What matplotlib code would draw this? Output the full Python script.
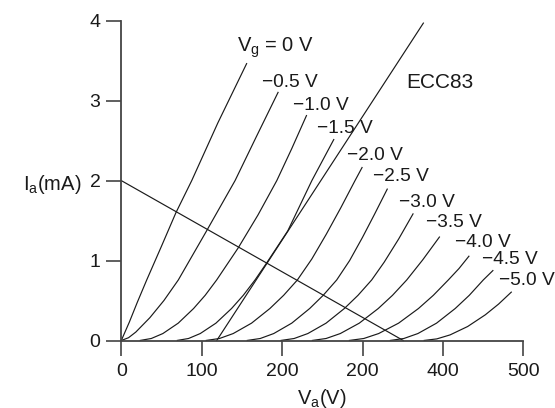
import matplotlib
matplotlib.use('Agg')
import matplotlib.pyplot as plt

plt.rcParams['font.family'] = ['Liberation Sans', 'DejaVu Sans']
plt.rcParams['mathtext.fontset'] = 'custom'
plt.rcParams['mathtext.rm'] = 'Liberation Sans'
plt.rcParams['mathtext.it'] = 'Liberation Sans:italic'

# ---- data ----
va_g00 = [0, 10, 20, 31.6, 50, 68, 87.6, 120, 156.2]
ia_g00 = [0, 0.23, 0.48, 0.757, 1.18, 1.60, 2.00, 2.72, 3.47]

va_g05 = [0, 9, 18, 35.5, 53, 70.9, 106, 141.5, 168, 195.3]
ia_g05 = [0, 0.035, 0.105, 0.285, 0.50, 0.757, 1.37, 2.00, 2.55, 3.11]

va_g10 = [23, 37.3, 51.7, 70.8, 89.9, 104.3, 118.6, 145.5, 170, 193.4, 212, 230.6]
ia_g10 = [0, 0.025, 0.087, 0.217, 0.40, 0.565, 0.757, 1.16, 1.57, 2.00, 2.40, 2.82]

va_g15 = [69, 83.6, 98.2, 117.7, 137.1, 151.7, 166.3, 180.8, 207, 237, 264.6]
ia_g15 = [0, 0.025, 0.087, 0.217, 0.40, 0.565, 0.757, 0.97, 1.37, 2.00, 2.52]

va_g20 = [105, 122.1, 139.2, 162, 184.8, 201.9, 219, 237, 255, 273, 290.7, 299.8]
ia_g20 = [0, 0.025, 0.087, 0.217, 0.40, 0.565, 0.757, 1.02, 1.33, 1.66, 2.00, 2.17]

va_g25 = [156, 172.8, 189.6, 212, 234.3, 251.1, 267.9, 284, 300, 315, 331.1]
ia_g25 = [0, 0.025, 0.087, 0.217, 0.40, 0.565, 0.757, 1.00, 1.29, 1.58, 1.90]

va_g30 = [198, 215, 232, 254.7, 277.4, 294.4, 311.4, 327, 345, 363.2]
ia_g30 = [0, 0.025, 0.087, 0.217, 0.40, 0.565, 0.757, 0.98, 1.27, 1.59]

va_g35 = [237, 254.7, 272.4, 296, 319.6, 337.3, 355, 375, 396.1]
ia_g35 = [0, 0.025, 0.087, 0.217, 0.40, 0.565, 0.757, 1.01, 1.30]

va_g40 = [283, 301.6, 320.1, 344.9, 369.6, 388.1, 406.7, 420, 432.8]
ia_g40 = [0, 0.025, 0.087, 0.217, 0.40, 0.565, 0.757, 0.90, 1.06]

va_g45 = [334, 351.4, 368.9, 392.1, 415.3, 432.8, 450.2, 462.7]
ia_g45 = [0, 0.025, 0.087, 0.217, 0.40, 0.565, 0.757, 0.88]

va_g50 = [376, 392.4, 408.9, 430.8, 452.7, 469.2, 485.6]
ia_g50 = [0, 0.020, 0.070, 0.175, 0.321, 0.455, 0.61]

load_va = [0, 350.7]
load_ia = [2.0, 0]

line_va = [118.7, 375.7]
line_ia = [0, 3.97]

curve_labels = [r'V$_\mathregular{g}$ = 0 V', '\u22120.5 V', '\u22121.0 V', '\u22121.5 V',
                '\u22122.0 V', '\u22122.5 V', '\u22123.0 V', '\u22123.5 V',
                '\u22124.0 V', '\u22124.5 V', '\u22125.0 V']
title_label = 'ECC83'

x_ticks = [0, 100, 200, 300, 400, 500]
x_ticklabels = ['0', '100', '200', '200', '400', '500']
y_ticks = [0, 1, 2, 3, 4]
y_ticklabels = ['0', '1', '2', '3', '4']

# ---- layout / style ----
W, H = 555, 408
fig = plt.figure(figsize=(W / 100, H / 100), dpi=100)
x0_px, x1_px = 121.3, 523.3
y0_px, y1_px = 340.5, 20.7
ax = fig.add_axes([x0_px / W, (H - y0_px) / H, (x1_px - x0_px) / W, (y0_px - y1_px) / H])
ax.set_xlim(0, 500)
ax.set_ylim(0, 4)

line_color = '#1a1a1a'
axis_color = '#444444'
lw = 0.85

curves = [(va_g00, ia_g00), (va_g05, ia_g05), (va_g10, ia_g10), (va_g15, ia_g15),
          (va_g20, ia_g20), (va_g25, ia_g25), (va_g30, ia_g30), (va_g35, ia_g35),
          (va_g40, ia_g40), (va_g45, ia_g45), (va_g50, ia_g50)]
for va, ia in curves:
    ax.plot(va, ia, color=line_color, lw=lw, clip_on=False, solid_capstyle='butt')

ax.plot(load_va, load_ia, color=line_color, lw=lw, clip_on=False)
ax.plot(line_va, line_ia, color=line_color, lw=lw, clip_on=False)

# curve labels (left / baseline positions)
label_pos = [(143.5, 3.61), (175.5, 3.17), (214.0, 2.88), (244.0, 2.595),
             (280.5, 2.258), (313.5, 1.99), (346.0, 1.664), (378.5, 1.42),
             (415.5, 1.17), (449.0, 0.957), (470.0, 0.694)]
for txt, (lx, ly) in zip(curve_labels, label_pos):
    fs = 14.5 if txt.startswith('V') else 13.8
    ax.text(lx, ly, txt, ha='left', va='baseline', fontsize=fs, color=line_color)
ax.text(354.1, 3.158, title_label, ha='left', va='baseline', fontsize=15, color=line_color)

for s in ['top', 'right']:
    ax.spines[s].set_visible(False)
for s in ['left', 'bottom']:
    ax.spines[s].set_color(axis_color)
    ax.spines[s].set_linewidth(1.3)

ax.set_xticks(x_ticks)
ax.set_xticklabels(x_ticklabels)
ax.set_yticks(y_ticks)
ax.set_yticklabels(y_ticklabels)
ax.tick_params(axis='both', direction='out', length=10.5, width=1.2, color=axis_color,
               labelsize=14, labelcolor=line_color)
ax.tick_params(axis='x', pad=5.5)
ax.tick_params(axis='y', pad=4.5)

fig.text(23.3 / W, 1 - 190.5 / H, r'I$_\mathregular{a}$(mA)', ha='left', va='baseline',
         fontsize=14.5, color=line_color)
fig.text(296.7 / W, 1 - 403.5 / H, r'V$_\mathregular{a}$(V)', ha='left', va='baseline',
         fontsize=14.5, color=line_color)

fig.savefig('out.png', dpi=100)
